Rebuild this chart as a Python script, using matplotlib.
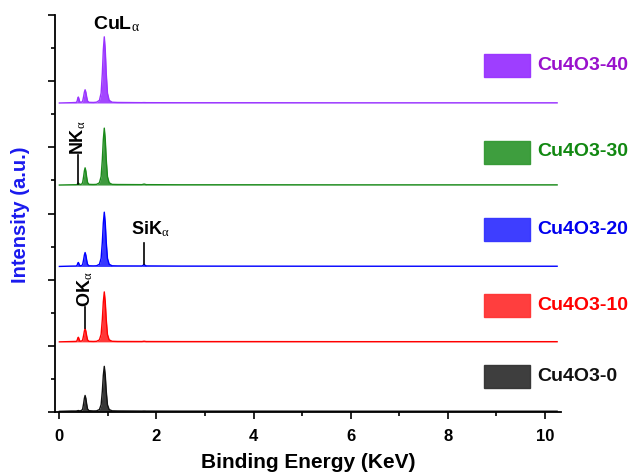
import matplotlib
matplotlib.use("Agg")
import matplotlib.pyplot as plt
from matplotlib.patches import Rectangle
import numpy as np

plt.rcParams['font.family'] = ['Liberation Sans', 'DejaVu Sans']
plt.rcParams['mathtext.fontset'] = 'custom'
plt.rcParams['mathtext.rm'] = 'Liberation Serif'
plt.rcParams['mathtext.it'] = 'Liberation Serif'
plt.rcParams['mathtext.bf'] = 'Liberation Sans:bold'

# Shared energy axis (keV)
energy = [0.00, 0.25, 0.35, 0.365, 0.38, 0.39, 0.40, 0.415, 0.43,
          0.46, 0.48, 0.50, 0.515, 0.53, 0.545, 0.56, 0.58, 0.61,
          0.70, 0.765, 0.825, 0.86, 0.885, 0.905, 0.925, 0.945, 0.965, 0.99, 1.025, 1.085,
          1.20, 1.70, 1.73, 1.745, 1.76, 1.79, 2.50, 4.00, 6.00, 8.00, 10.25]

# Intensities above each trace's own baseline
cu4o3_0 = [0.000, 0.005, 0.005, 0.008, 0.010, 0.012, 0.010, 0.008, 0.008,
           0.014, 0.036, 0.120, 0.197, 0.240, 0.197, 0.120, 0.036, 0.010,
           0.006, 0.007, 0.027, 0.100, 0.306, 0.544, 0.680, 0.544, 0.306, 0.100, 0.027, 0.008,
           0.006, 0.004, 0.005, 0.005, 0.005, 0.004, 0.003, 0.003, 0.002, 0.002, 0.002]
cu4o3_10 = [0.000, 0.005, 0.007, 0.021, 0.056, 0.070, 0.056, 0.021, 0.010,
            0.012, 0.030, 0.100, 0.164, 0.200, 0.164, 0.100, 0.030, 0.008,
            0.006, 0.008, 0.030, 0.113, 0.340, 0.604, 0.755, 0.604, 0.340, 0.113, 0.030, 0.009,
            0.006, 0.005, 0.008, 0.010, 0.008, 0.005, 0.004, 0.004, 0.003, 0.003, 0.003]
cu4o3_20 = [0.000, 0.005, 0.006, 0.018, 0.048, 0.060, 0.048, 0.018, 0.010,
            0.012, 0.032, 0.105, 0.172, 0.210, 0.172, 0.105, 0.032, 0.010,
            0.008, 0.010, 0.033, 0.123, 0.369, 0.656, 0.820, 0.656, 0.369, 0.123, 0.033, 0.010,
            0.008, 0.007, 0.020, 0.030, 0.020, 0.008, 0.005, 0.004, 0.003, 0.003, 0.003]
cu4o3_30 = [0.000, 0.004, 0.005, 0.009, 0.024, 0.030, 0.024, 0.010, 0.009,
            0.014, 0.039, 0.130, 0.213, 0.260, 0.213, 0.130, 0.039, 0.010,
            0.008, 0.010, 0.034, 0.129, 0.387, 0.688, 0.860, 0.688, 0.387, 0.129, 0.034, 0.010,
            0.008, 0.006, 0.012, 0.015, 0.012, 0.006, 0.004, 0.004, 0.003, 0.003, 0.003]
cu4o3_40 = [0.000, 0.005, 0.008, 0.027, 0.072, 0.090, 0.072, 0.027, 0.012,
            0.012, 0.030, 0.100, 0.164, 0.200, 0.164, 0.100, 0.030, 0.010,
            0.008, 0.012, 0.040, 0.150, 0.450, 0.800, 1.000, 0.800, 0.450, 0.150, 0.040, 0.012,
            0.008, 0.005, 0.006, 0.006, 0.006, 0.005, 0.004, 0.004, 0.003, 0.003, 0.003]

names = ["Cu4O3-0", "Cu4O3-10", "Cu4O3-20", "Cu4O3-30", "Cu4O3-40"]
offsets = [0.01, 1.06, 2.20, 3.43, 4.67]
line_colors = ["#111111", "#ff0000", "#0000ff", "#1a8a1a", "#9933ff"]
fill_colors = ["#222222", "#ff2222", "#2222ff", "#2a8f2a", "#9933ff"]
patch_colors = ["#333333", "#ff3333", "#3333ff", "#339933", "#9933ff"]
text_colors = ["#111111", "#ff0000", "#0000ee", "#118811", "#9911cc"]
legend_y = [376, 305, 230, 152, 66]  # pixel rows of the legend entries
spectra = [cu4o3_0, cu4o3_10, cu4o3_20, cu4o3_30, cu4o3_40]

W, H = 632, 473
fig = plt.figure(figsize=(W / 100, H / 100), dpi=100)
ax = fig.add_axes([55 / W, 1 - 412 / H, (561 - 55) / W, (412 - 15) / H])

x = np.array(energy)
for vals, off, lc, fc in zip(spectra, offsets, line_colors, fill_colors):
    y = np.array(vals) + off
    ax.fill_between(x, off, y, color=fc, alpha=0.9, linewidth=0)
    ax.plot(x, y, color=lc, linewidth=1.0)

ax.set_xlim(-0.09, 10.33)
ax.set_ylim(0, 6)
ax.set_xticks([0, 2, 4, 6, 8, 10])
ax.set_xticks([1, 3, 5, 7, 9], minor=True)
ax.set_yticks([0, 1, 2, 3, 4, 5, 6])
ax.set_yticks([0.5, 1.5, 2.5, 3.5, 4.5, 5.5], minor=True)
ax.set_yticklabels([])
ax.tick_params(axis='both', which='major', direction='out', length=5, width=1.2)
ax.tick_params(axis='both', which='minor', direction='out', length=3, width=1.2)
ax.tick_params(axis='x', labelsize=12, pad=7)
for lab in ax.get_xticklabels():
    lab.set_fontweight('bold')
for side in ['top', 'right']:
    ax.spines[side].set_visible(False)
for side in ['left', 'bottom']:
    ax.spines[side].set_linewidth(1.3)

ax.set_xlabel("Binding Energy (KeV)", fontsize=15, fontweight='bold', labelpad=7)
fig.text(21 / W, 1 - 215 / H, "Intensity (a.u.)", fontsize=14.5, fontweight='bold',
         color='#1a1aee', rotation=90, ha='center', va='center')

# Peak annotations
ax.text(0.70, 5.86, r"CuL$_{\alpha}$", fontsize=14, fontweight='bold', ha='left', va='center')
ax.plot([1.745, 1.745], [2.24, 2.55], color='black', linewidth=1.2)
ax.text(1.48, 2.76, r"SiK$_{\alpha}$", fontsize=13, fontweight='bold', ha='left', va='center')
ax.plot([0.53, 0.53], [1.27, 1.59], color='black', linewidth=1.2)
ax.text(0.53, 1.58, r"OK$_{\alpha}$", fontsize=13, fontweight='bold', ha='center', va='bottom',
        rotation=90)
ax.plot([0.39, 0.39], [3.45, 3.88], color='black', linewidth=1.2)
ax.text(0.39, 3.88, r"NK$_{\alpha}$", fontsize=13, fontweight='bold', ha='center', va='bottom',
        rotation=90)

# Legend drawn in figure pixels to the right of the plot
for name, pc, tc, py in zip(names, patch_colors, text_colors, legend_y):
    fig.patches.append(Rectangle((484 / W, 1 - (py + 11.5) / H), 46 / W, 23 / H,
                                 transform=fig.transFigure, facecolor=pc,
                                 edgecolor=pc, linewidth=1, alpha=0.95))
    fig.text(537 / W, 1 - py / H, name, fontsize=14, fontweight='bold', color=tc,
             ha='left', va='center')

fig.savefig("out.png", dpi=100)
